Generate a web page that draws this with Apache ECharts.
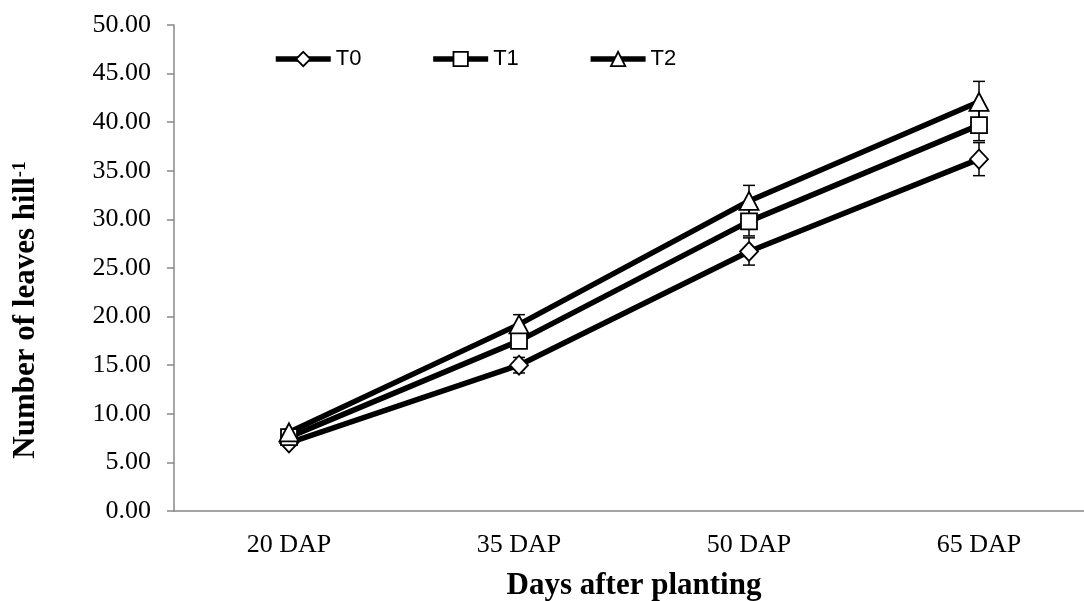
<!DOCTYPE html>
<html>
<head>
<meta charset="utf-8">
<script src="https://cdn.jsdelivr.net/npm/echarts@6/dist/echarts.min.js"></script>
<style>
html,body{margin:0;padding:0;background:#fff;}
#chart{width:1084px;height:601px;}
</style>
</head>
<body>
<div id="chart"></div>
<script>
const categories = ['20 DAP', '35 DAP', '50 DAP', '65 DAP'];
const seriesNames = ['T0', 'T1', 'T2'];
const t0 = [7.0, 15.0, 26.7, 36.2];
const t1 = [7.6, 17.5, 29.8, 39.7];
const t2 = [8.1, 19.2, 31.9, 42.1];
const t0Err = [0.3, 0.8, 1.4, 1.7];
const t1Err = [0.3, 0.6, 1.5, 1.6];
const t2Err = [0.3, 1.0, 1.6, 2.1];
const yMin = 0, yMax = 50, yInterval = 5;

const values = [t0, t1, t2];
const errs = [t0Err, t1Err, t2Err];
const symbols = ['diamond', 'rect', 'triangle'];
const symbolSizes = [[18, 19], 16, [19, 18]];

const chart = echarts.init(document.getElementById('chart'), null, {renderer: 'canvas'});

function errSeries(idx) {
  const data = categories.map((c, i) => [i, values[idx][i], errs[idx][i]]);
  return {
    type: 'custom',
    name: seriesNames[idx] + ' err',
    silent: true,
    z: 1,
    data: data,
    encode: {x: 0, y: 1},
    renderItem: function (params, api) {
      const x = api.value(0), v = api.value(1), e = api.value(2);
      const top = api.coord([x, v + e]);
      const bot = api.coord([x, v - e]);
      const hw = 6;
      const st = {stroke: '#000', lineWidth: 1.5};
      return {
        type: 'group',
        children: [
          {type: 'line', shape: {x1: top[0], y1: top[1], x2: bot[0], y2: bot[1]}, style: st},
          {type: 'line', shape: {x1: top[0] - hw, y1: top[1], x2: top[0] + hw, y2: top[1]}, style: st},
          {type: 'line', shape: {x1: bot[0] - hw, y1: bot[1], x2: bot[0] + hw, y2: bot[1]}, style: st}
        ]
      };
    }
  };
}

const lineSeries = seriesNames.map((n, i) => ({
  type: 'line',
  name: n,
  data: values[i],
  symbol: symbols[i],
  symbolSize: symbolSizes[i],
  showAllSymbol: true,
  z: 3,
  lineStyle: {color: '#000', width: 5.5},
  itemStyle: {color: '#fff', borderColor: '#000', borderWidth: 1.8},
  emphasis: {disabled: true}
}));

const option = {
  animation: false,
  backgroundColor: '#fff',
  legend: {
    data: seriesNames,
    left: 268,
    top: 43,
    itemWidth: 55,
    itemHeight: 18,
    itemGap: 69,
    lineStyle: {width: 5.5, color: '#000'},
    itemStyle: {borderWidth: 1.8, borderColor: '#000', color: '#fff'},
    textStyle: {fontFamily: 'Liberation Sans', fontSize: 22, color: '#000'}
  },
  grid: {left: 174, right: -10, top: 25, bottom: 90, containLabel: false, outerBoundsMode: 'none'},
  xAxis: {
    type: 'category',
    data: categories,
    boundaryGap: true,
    name: 'Days after planting',
    nameLocation: 'middle',
    nameGap: 59,
    nameTextStyle: {fontFamily: 'Liberation Serif', fontSize: 31, fontWeight: 'bold', color: '#000'},
    axisLine: {lineStyle: {color: '#888', width: 1.5}},
    axisTick: {alignWithLabel: true, length: 5, lineStyle: {color: '#888', width: 1.5}},
    axisLabel: {fontFamily: 'Liberation Serif', fontSize: 26, color: '#000', margin: 21},
    splitLine: {show: false}
  },
  yAxis: {
    type: 'value',
    min: yMin,
    max: yMax,
    interval: yInterval,
    axisLine: {show: true, lineStyle: {color: '#888', width: 1.5}},
    axisTick: {show: true, length: 7, lineStyle: {color: '#888', width: 1.5}},
    axisLabel: {
      fontFamily: 'Liberation Serif', fontSize: 26, color: '#000', margin: 23,
      formatter: v => v.toFixed(2)
    },
    splitLine: {show: false}
  },
  graphic: [{
    type: 'text',
    x: 26,
    y: 310,
    rotation: Math.PI / 2,
    style: {
      text: '{a|Number of leaves hill}{s|-1}',
      align: 'center',
      verticalAlign: 'middle',
      fill: '#000',
      rich: {
        a: {fontFamily: 'Liberation Serif', fontSize: 31, fontWeight: 'bold', fill: '#000'},
        s: {fontFamily: 'Liberation Serif', fontSize: 19, fontWeight: 'bold', fill: '#000', verticalAlign: 'top'}
      }
    }
  }],
  series: [errSeries(0), errSeries(1), errSeries(2)].concat(lineSeries)
};
chart.setOption(option);
</script>
</body>
</html>
